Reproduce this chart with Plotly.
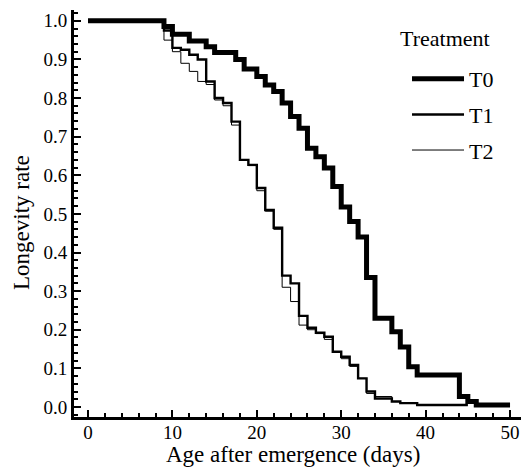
import plotly.graph_objects as go

# Survival (longevity) step data
t0_days = [0, 9, 10, 12, 14, 15, 17.5, 18.5, 20, 21, 22, 23, 24, 25, 26, 27, 28, 29, 30, 31, 32, 33, 34, 36, 37, 38, 39, 44, 45, 46, 50]
t0_vals = [1.0, 0.985, 0.965, 0.948, 0.933, 0.918, 0.90, 0.875, 0.856, 0.834, 0.817, 0.787, 0.752, 0.722, 0.67, 0.648, 0.619, 0.571, 0.518, 0.48, 0.44, 0.335, 0.23, 0.195, 0.155, 0.104, 0.083, 0.027, 0.014, 0.005, 0.005]

t1_days = [0, 9, 10, 11, 12, 13, 14, 15, 16, 17, 18, 19, 20, 21, 22, 23, 24, 25, 26, 27, 28, 29, 30, 31, 32, 33, 34, 36, 37, 39, 45]
t1_vals = [1.0, 0.975, 0.93, 0.925, 0.912, 0.90, 0.843, 0.80, 0.787, 0.739, 0.64, 0.627, 0.567, 0.51, 0.464, 0.34, 0.32, 0.236, 0.205, 0.192, 0.182, 0.143, 0.13, 0.109, 0.074, 0.04, 0.022, 0.014, 0.01, 0.005, 0.005]

t2_days = [0, 9, 10, 11, 12, 13, 14, 15, 16, 17, 18, 19, 20, 21, 22, 23, 24, 25, 26, 27, 28, 29, 30, 31, 32, 33, 34, 36, 37, 39, 45]
t2_vals = [1.0, 0.95, 0.92, 0.89, 0.869, 0.843, 0.835, 0.795, 0.78, 0.73, 0.64, 0.625, 0.56, 0.507, 0.46, 0.31, 0.273, 0.212, 0.2, 0.19, 0.175, 0.143, 0.125, 0.105, 0.074, 0.035, 0.027, 0.014, 0.01, 0.005, 0.005]

series = [
    ("T0", t0_days, t0_vals, 5),
    ("T1", t1_days, t1_vals, 2.4),
    ("T2", t2_days, t2_vals, 1),
]

FONT = "Liberation Serif, Times New Roman, serif"

fig = go.Figure()
for name, xs, ys, w in series:
    fig.add_trace(go.Scatter(
        x=xs, y=ys, name=name, mode="lines",
        line=dict(color="black", width=w, shape="hv"),
        legendgroup=name,
    ))

fig.update_layout(
    width=521, height=469,
    margin=dict(l=74, r=0, t=10, b=52),
    paper_bgcolor="white", plot_bgcolor="white",
    font=dict(family=FONT, color="black", size=19),
    showlegend=True,
    legend=dict(
        font=dict(family=FONT, size=22),
        x=0.745, y=0.882, xanchor="left", yanchor="top",
        bgcolor="rgba(0,0,0,0)",
        tracegroupgap=4,
        itemwidth=52,
    ),
    annotations=[
        dict(text="Treatment", xref="paper", yref="paper", x=0.83, y=0.931,
             xanchor="center", yanchor="middle", showarrow=False,
             font=dict(family=FONT, size=22)),
        dict(text="Longevity rate", xref="paper", yref="paper", x=-0.116, y=0.477,
             xanchor="center", yanchor="middle", textangle=-90, showarrow=False,
             font=dict(family=FONT, size=23)),
        dict(text="Age after emergence (days)", xref="paper", yref="paper", x=0.49, y=-0.092,
             xanchor="center", yanchor="middle", showarrow=False,
             font=dict(family=FONT, size=23)),
    ],
    xaxis=dict(
        range=[-1.66, 51.3],
        tickvals=[0, 10, 20, 30, 40, 50],
        ticks="inside", ticklen=7, tickwidth=1.5, tickcolor="black",
        minor=dict(dtick=2, tick0=0, ticks="inside", ticklen=4, tickwidth=1.5, tickcolor="black"),
        showline=True, linewidth=3, linecolor="black",
        showgrid=False, zeroline=False,
        tickfont=dict(family=FONT, size=19),
        ticklabelstandoff=-4,
    ),
    yaxis=dict(
        range=[-0.026, 1.028],
        tickvals=[0, 0.1, 0.2, 0.3, 0.4, 0.5, 0.6, 0.7, 0.8, 0.9, 1.0],
        tickformat=".1f",
        ticks="inside", ticklen=7, tickwidth=1.5, tickcolor="black",
        minor=dict(dtick=0.02, tick0=0, ticks="inside", ticklen=4, tickwidth=1.5, tickcolor="black"),
        showline=True, linewidth=3, linecolor="black",
        showgrid=False, zeroline=False,
        tickfont=dict(family=FONT, size=19),
    ),
)

fig.write_html("out.html")
